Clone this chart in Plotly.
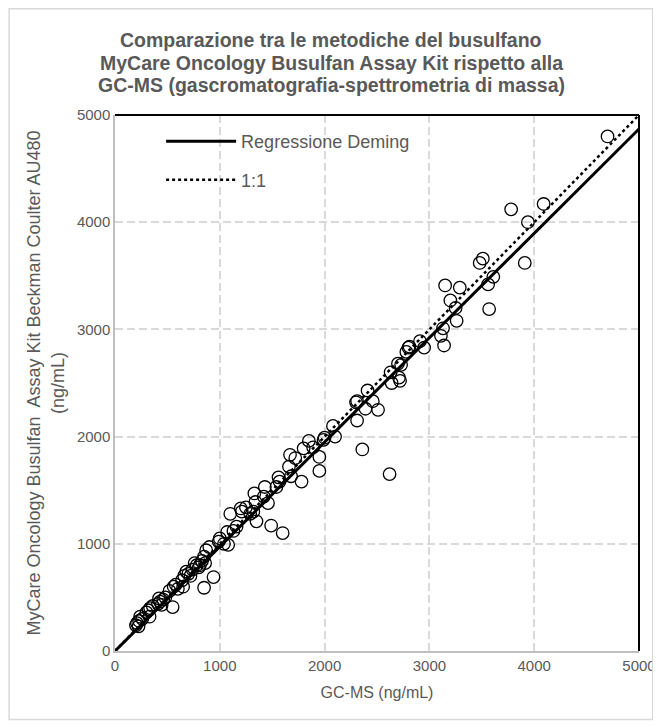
import plotly.graph_objects as go

# GC-MS (x) vs MyCare Oncology assay (y), ng/mL
gcms = [200, 210, 225, 240, 230, 260, 300, 330, 335, 320, 360, 410, 420, 430, 445, 460, 480, 520, 550, 560,
        580, 600, 640, 650, 660, 680, 700, 720, 740, 760, 780, 800, 810, 830, 850, 850, 860, 870, 900, 940,
        990, 1000, 1040, 1070, 1080, 1100, 1130, 1160, 1200, 1210, 1250, 1290, 1320, 1330, 1340, 1350, 1420, 1430, 1460, 1490,
        1540, 1560, 1570, 1600, 1660, 1670, 1680, 1720, 1780, 1800, 1850, 1890, 1950, 1950, 1990, 2000, 2080, 2100,
        2300, 2310, 2310, 2360, 2390, 2410, 2460, 2510, 2620, 2630, 2640, 2700, 2710, 2720, 2730, 2780, 2800, 2810, 2910, 2950,
        3110, 3130, 3140, 3150, 3200, 3250, 3260, 3290, 3480, 3510, 3560, 3570, 3610, 3780, 3910, 3940, 4090, 4700]
mycare = [240, 260, 230, 320, 280, 300, 360, 320, 400, 380, 420, 440, 490, 460, 430, 480, 500, 560, 410, 600,
          620, 580, 660, 600, 700, 740, 720, 700, 760, 820, 800, 780, 800, 840, 880, 590, 820, 940, 970, 690,
          1020, 1050, 1000, 1110, 990, 1280, 1120, 1160, 1330, 1300, 1340, 1280, 1300, 1470, 1390, 1210, 1440, 1530, 1380, 1170,
          1530, 1620, 1580, 1100, 1720, 1830, 1630, 1800, 1580, 1890, 1960, 1900, 1810, 1680, 1970, 1990, 2100, 2000,
          2320, 2150, 2330, 1880, 2260, 2430, 2330, 2250, 1650, 2600, 2500, 2680, 2550, 2520, 2670, 2790, 2830, 2840, 2890, 2830,
          2940, 3010, 2850, 3410, 3270, 3200, 3080, 3390, 3620, 3660, 3420, 3190, 3490, 4120, 3620, 4000, 4170, 4800]

deming_x = [0, 5000]
deming_y = [0, 4870]
ident_x = [0, 5000]
ident_y = [0, 5000]

x_ticks = [0, 1000, 2000, 3000, 4000, 5000]
y_ticks = [0, 1000, 2000, 3000, 4000, 5000]

title_lines = ["Comparazione tra le metodiche del busulfano",
               "MyCare Oncology Busulfan Assay Kit rispetto alla",
               "GC-MS (gascromatografia-spettrometria di massa)"]

GRAY = "#595959"
FONT = "Liberation Sans, Arial, sans-serif"

fig = go.Figure()
fig.add_trace(go.Scatter(x=gcms, y=mycare, mode="markers", showlegend=False,
                         marker=dict(symbol="circle-open", size=12.5, color="black", line=dict(width=1.3, color="black"))))
fig.add_trace(go.Scatter(x=deming_x, y=deming_y, mode="lines", name="Regressione Deming", legendgroup="a",
                         line=dict(color="black", width=3)))
fig.add_trace(go.Scatter(x=ident_x, y=ident_y, mode="lines", name="1:1", legendgroup="b",
                         line=dict(color="black", width=2.5, dash="dot")))

# plot area in figure px: left 107, right 631, top 107, bottom 643
annotations = []
for i, line in enumerate(title_lines):
    py = 32 + 22.5 * i
    annotations.append(dict(text="<b>" + line + "</b>", xref="paper", yref="paper",
                            x=(323 - 107) / 524, y=(643 - py) / 536, xanchor="center", yanchor="middle",
                            showarrow=False, font=dict(size=19.5, color=GRAY, family=FONT)))

fig.update_layout(
    width=661, height=727,
    margin=dict(l=107, r=30, t=107, b=84),
    paper_bgcolor="white", plot_bgcolor="white",
    font=dict(family=FONT, color=GRAY, size=15),
    annotations=annotations,
    legend=dict(x=0.088, y=0.985, xanchor="left", yanchor="top", bgcolor="rgba(0,0,0,0)",
                font=dict(size=18, color=GRAY), itemwidth=70, tracegroupgap=12),
    xaxis=dict(range=[0, 5000], tickvals=x_ticks, showgrid=True, gridcolor="#d9d9d9", gridwidth=1.5,
               griddash="8px,4px", zeroline=False, showline=True, linecolor="#bfbfbf", linewidth=1.5,
               ticks="", tickfont=dict(size=15, color=GRAY),
               title=dict(text="GC-MS (ng/mL)", font=dict(size=16, color=GRAY), standoff=14)),
    yaxis=dict(range=[0, 5000], tickvals=y_ticks, showgrid=True, gridcolor="#d9d9d9", gridwidth=1.5,
               griddash="8px,4px", zeroline=False, showline=True, linecolor="#bfbfbf", linewidth=1.5,
               ticks="", tickfont=dict(size=15, color=GRAY),
               title=dict(text="MyCare Oncology Busulfan\u00a0 Assay Kit Beckman Coulter AU480<br>(ng/mL)",
                          font=dict(size=18, color=GRAY), standoff=8)),
    shapes=[
        dict(type="line", xref="paper", yref="paper", x0=0, x1=1, y0=1, y1=1, line=dict(color="black", width=2)),
        dict(type="line", xref="paper", yref="paper", x0=1, x1=1, y0=0, y1=1, line=dict(color="black", width=2)),
        dict(type="rect", xref="paper", yref="paper", x0=-0.202, x1=1.026, y0=-0.128, y1=1.198,
             line=dict(color="#d9d9d9", width=1.5)),
    ],
)

fig.write_html("out.html")
